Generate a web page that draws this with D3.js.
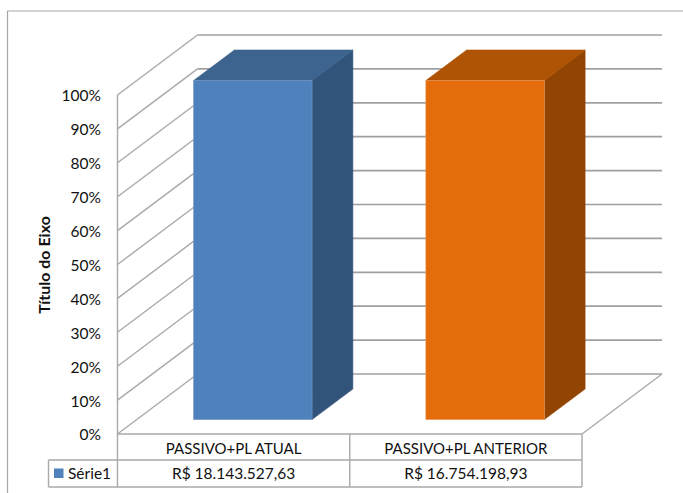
<!DOCTYPE html>
<html>
<head>
<meta charset="utf-8">
<script src="https://cdn.jsdelivr.net/npm/d3@7"></script>
<style>
  html, body { margin: 0; padding: 0; background: #fff; }
  svg { display: block; }
  text { font-family: Lato, "Open Sans", sans-serif; fill: #111; }
</style>
</head>
<body>
<div id="chart"></div>
<script>
// data
var categories = ["PASSIVO+PL ATUAL", "PASSIVO+PL ANTERIOR"];
var seriesName = "Série1";
var seriesValues = [18143527.63, 16754198.93];
var valueLabels = ["R$ 18.143.527,63", "R$ 16.754.198,93"];
var percentTicks = [0, 10, 20, 30, 40, 50, 60, 70, 80, 90, 100];
var barColors = [
  { front: "#4f81bd", top: "#3d638f", side: "#32547b", edge: "#6f97c8" },
  { front: "#e46c0a", top: "#af5304", side: "#924403", edge: "#ee9a5c" }
];

var width = 683;
var height = 493;

var left = 117.5, right = 582, floorY = 434, topY = 95;
var tableMid = 460, tableBot = 487, legendLeft = 48.5;
// the 3d depth of the box, back wall is shifted by this much
var depthX = 80, depthY = -60;
var gridColor = "#a9a9a9";

var svg = d3.select("#chart").append("svg")
  .attr("width", width)
  .attr("height", height);

//scales
var xScale = d3.scaleBand().domain(categories).range([left, right]);
var yScale = d3.scaleLinear().domain([0, 100]).range([floorY, topY]);
var zScale = d3.scaleLinear().domain([0, 1]).range([0, 1]);

function dx(z) { return zScale(z) * depthX; }
function dy(z) { return zScale(z) * depthY; }

// outer frame, only top and left are in the crop
svg.append("path")
  .attr("d", "M7.5,493V11H683")
  .attr("fill", "none")
  .attr("stroke", "#a6a6a6")
  .attr("stroke-width", 1.2);

//walls
var grid = svg.append("g").attr("fill", "none").attr("stroke", gridColor).attr("stroke-width", 1.4);

percentTicks.forEach(function(t) {
  var y = yScale(t);
  grid.append("path")
    .attr("d", "M" + left + "," + y + "L" + (left + dx(1)) + "," + (y + dy(1)));
  grid.append("path")
    .attr("d", "M" + (left + dx(1)) + "," + (y + dy(1)) + "H" + (right + dx(1)))
    .attr("stroke", "#a0a0a0")
    .attr("stroke-width", 1.7);
});

// floor front edge and right edge
grid.append("path")
  .attr("d", "M" + (right + dx(1)) + "," + (floorY + dy(1)) + "L" + right + "," + floorY);

//bars
var zFront = 0.24, zBack = 0.75;
var barWidth = xScale.bandwidth() * 0.51;

var bars = svg.selectAll("g.bar").data(categories).enter().append("g").attr("class", "bar");

function barBox(i) {
  // 100% stacked, every column fills to its own total
  var pct = seriesValues[i] / seriesValues[i] * 100;
  var cx = xScale(categories[i]) + xScale.bandwidth() / 2;
  return {
    x0: cx - barWidth / 2 + dx(zFront),
    x1: cx + barWidth / 2 + dx(zFront),
    y0: yScale(0) + dy(zFront),
    y1: yScale(pct) + dy(zFront),
    ox: dx(zBack) - dx(zFront),
    oy: dy(zBack) - dy(zFront)
  };
}

bars.append("path")
  .attr("d", function(d, i) {
    var b = barBox(i);
    return "M" + b.x1 + "," + b.y1 + "L" + (b.x1 + b.ox) + "," + (b.y1 + b.oy) +
      "V" + (b.y0 + b.oy) + "L" + b.x1 + "," + b.y0 + "Z";
  })
  .attr("fill", function(d, i) { return barColors[i].side; })
  .attr("stroke", function(d, i) { return barColors[i].side; })
  .attr("stroke-width", 0.6);

bars.append("path")
  .attr("d", function(d, i) {
    var b = barBox(i);
    return "M" + b.x0 + "," + b.y1 + "L" + (b.x0 + b.ox) + "," + (b.y1 + b.oy) +
      "H" + (b.x1 + b.ox) + "L" + b.x1 + "," + b.y1 + "Z";
  })
  .attr("fill", function(d, i) { return barColors[i].top; })
  .attr("stroke", function(d, i) { return barColors[i].top; })
  .attr("stroke-width", 0.6);

bars.append("rect")
  .attr("x", function(d, i) { return barBox(i).x0; })
  .attr("y", function(d, i) { return barBox(i).y1; })
  .attr("width", barWidth)
  .attr("height", function(d, i) { return barBox(i).y0 - barBox(i).y1; })
  .attr("fill", function(d, i) { return barColors[i].front; })
  .attr("stroke", function(d, i) { return barColors[i].edge; })
  .attr("stroke-width", 0.6);

//y axis
var yAxis = d3.axisLeft(yScale)
  .tickValues(percentTicks)
  .tickSize(0)
  .tickPadding(16.5)
  .tickFormat(function(d) { return d + "%"; });

var yG = svg.append("g")
  .attr("transform", "translate(" + left + ",1)")
  .call(yAxis);
yG.select(".domain").remove();
yG.selectAll("text").attr("font-size", 15.5).attr("font-family", null).attr("fill", null);

svg.append("text")
  .attr("transform", "translate(50,265)rotate(-90)")
  .attr("text-anchor", "middle")
  .attr("font-size", 16)
  .attr("font-weight", "bold")
  .text("Título do Eixo");

//data table
var table = svg.append("g").attr("fill", "none").attr("stroke", gridColor).attr("stroke-width", 1.4);
table.append("path").attr("d", "M" + left + "," + topY + "V" + tableBot);
table.append("path").attr("d", "M" + left + "," + floorY + "H" + right);
table.append("path").attr("d", "M" + legendLeft + "," + tableMid + "H" + right);
table.append("path").attr("d", "M" + legendLeft + "," + tableBot + "H" + right);
table.append("path").attr("d", "M" + legendLeft + "," + tableMid + "V" + tableBot);
table.append("path").attr("d", "M" + xScale(categories[1]) + "," + floorY + "V" + tableBot);
table.append("path").attr("d", "M" + right + "," + floorY + "V" + tableBot);

svg.selectAll("text.cat").data(categories).enter().append("text")
  .attr("class", "cat")
  .attr("x", function(d) { return xScale(d) + xScale.bandwidth() / 2; })
  .attr("y", 454)
  .attr("text-anchor", "middle")
  .attr("font-size", 15)
  .text(function(d) { return d; });

svg.selectAll("text.val").data(valueLabels).enter().append("text")
  .attr("class", "val")
  .attr("x", function(d, i) { return xScale(categories[i]) + xScale.bandwidth() / 2; })
  .attr("y", 479)
  .attr("text-anchor", "middle")
  .attr("font-size", 15.5)
  .text(function(d) { return d; });

//legend key
svg.append("rect")
  .attr("x", 54).attr("y", 468.5)
  .attr("width", 9.5).attr("height", 9.5)
  .attr("fill", barColors[0].front);

svg.append("text")
  .attr("x", 68).attr("y", 479)
  .attr("font-size", 15.5)
  .text(seriesName);
</script>
</body>
</html>
